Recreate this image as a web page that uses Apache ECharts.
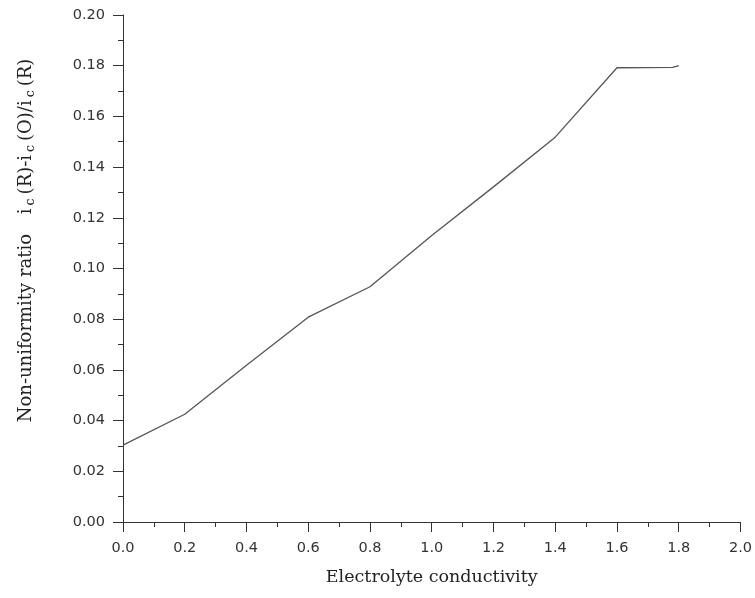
<!DOCTYPE html>
<html>
<head>
<meta charset="utf-8">
<script src="https://cdn.jsdelivr.net/npm/echarts@6/dist/echarts.min.js"></script>
<style>html,body{margin:0;padding:0;background:#fff}#c{width:755px;height:598px}</style>
</head>
<body>
<div id="c"></div>
<script>
var conductivity = [0.0, 0.2, 0.4, 0.6, 0.8, 1.0, 1.2, 1.4, 1.6, 1.78, 1.8];
var ratio = [0.0303, 0.0425, 0.0618, 0.0808, 0.0928, 0.1130, 0.1322, 0.1518, 0.1792, 0.1793, 0.1800];
var xTitle = 'Electrolyte conductivity';
var yTitleParts = ['Non-uniformity ratio', ' i', 'c', '(R)-i', 'c', '(O)/i', 'c', '(R)'];

var chart = echarts.init(document.getElementById('c'), null, {renderer: 'canvas'});
var pts = conductivity.map(function (x, i) { return [x, ratio[i]]; });
var yName = yTitleParts.map(function (p, i) {
  if (i === 0) return '{n|' + p + '}';
  return i % 2 === 0 ? '{s|' + p + '}' : '{m|' + p + '}';
}).join('');
var axisCol = '#333';
chart.setOption({
  animation: false,
  grid: {left: 123, right: 12, top: 15, bottom: 76},
  xAxis: {
    type: 'value', min: 0, max: 2, interval: 0.2,
    name: xTitle, nameLocation: 'middle', nameGap: 46,
    nameTextStyle: {fontFamily: 'DejaVu Serif', fontSize: 17.5, color: '#222'},
    axisLine: {lineStyle: {color: axisCol, width: 1}},
    axisTick: {length: 10, lineStyle: {color: axisCol}},
    minorTick: {show: true, splitNumber: 2, length: 5, lineStyle: {color: axisCol}},
    splitLine: {show: false},
    axisLabel: {margin: 19, fontFamily: 'DejaVu Sans', fontSize: 14.5, color: '#333',
      formatter: function (v) { return v.toFixed(1); }}
  },
  yAxis: {
    type: 'value', min: 0, max: 0.2, interval: 0.02,
    name: yName, nameLocation: 'middle', nameGap: 86,
    nameTextStyle: {padding: [0, 0, 0, 56],
      rich: {
        n: {fontFamily: 'DejaVu Serif', fontSize: 18, color: '#222', padding: [0, 14, 0, 0]},
        m: {fontFamily: 'DejaVu Serif', fontSize: 18, color: '#222'},
        s: {fontFamily: 'DejaVu Serif', fontSize: 12.5, color: '#222', padding: [9, 4, 0, 3]}
      }},
    axisLine: {show: true, lineStyle: {color: axisCol, width: 1}},
    axisTick: {show: true, length: 10, lineStyle: {color: axisCol}},
    minorTick: {show: true, splitNumber: 2, length: 5, lineStyle: {color: axisCol}},
    splitLine: {show: false},
    axisLabel: {margin: 18, fontFamily: 'DejaVu Sans', fontSize: 14.5, color: '#333',
      formatter: function (v) { return v.toFixed(2); }}
  },
  series: [{
    type: 'line', data: pts, showSymbol: false, symbol: 'none',
    lineStyle: {color: '#555', width: 1.3}
  }]
});
</script>
</body>
</html>
